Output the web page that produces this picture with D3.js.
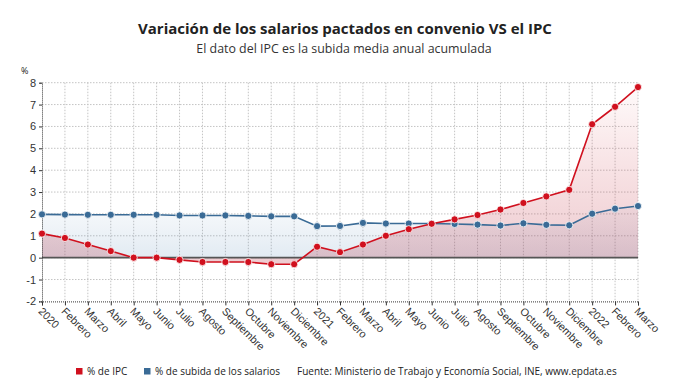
<!DOCTYPE html>
<html>
<head>
<meta charset="utf-8">
<script src="https://cdn.jsdelivr.net/npm/d3@7"></script>
<style>
  body { margin: 0; background: #fff; }
  svg { font-family: "Open Sans", sans-serif; }
</style>
</head>
<body>
<script>
// meses, de enero 2020 a marzo 2022
var months = ["2020","Febrero","Marzo","Abril","Mayo","Junio","Julio","Agosto","Septiembre","Octubre","Noviembre","Diciembre",
              "2021","Febrero","Marzo","Abril","Mayo","Junio","Julio","Agosto","Septiembre","Octubre","Noviembre","Diciembre",
              "2022","Febrero","Marzo"];
// % de IPC
var ipc = [1.1,0.9,0.6,0.3,0.0,0.0,-0.1,-0.2,-0.2,-0.2,-0.3,-0.3,
           0.5,0.25,0.6,1.0,1.3,1.55,1.75,1.95,2.2,2.5,2.8,3.1,
           6.1,6.9,7.8];
// % de subida de los salarios
var salarios = [1.98,1.97,1.96,1.96,1.96,1.96,1.93,1.93,1.93,1.91,1.89,1.89,
                1.44,1.45,1.59,1.56,1.56,1.56,1.54,1.51,1.47,1.57,1.50,1.48,
                2.01,2.24,2.36];
var yTicks = [-2,-1,0,1,2,3,4,5,6,7,8];

var width = 690, height = 388;
var svg = d3.select("body").append("svg").attr("width", width).attr("height", height);

var x = d3.scalePoint().domain(d3.range(months.length)).range([42, 638]);
var y = d3.scaleLinear().domain([-2, 8]).range([301.4, 82.7]);

// degradados
var defs = svg.append("defs");
var gr = defs.append("linearGradient").attr("id", "gRed").attr("x1", 0).attr("y1", 0).attr("x2", 0).attr("y2", 1);
gr.append("stop").attr("offset", "0%").attr("stop-color", "#d0101e").attr("stop-opacity", 0.02);
gr.append("stop").attr("offset", "100%").attr("stop-color", "#b8394c").attr("stop-opacity", 0.26);
var gb = defs.append("linearGradient").attr("id", "gBlue").attr("x1", 0).attr("y1", 0).attr("x2", 0).attr("y2", 1);
gb.append("stop").attr("offset", "0%").attr("stop-color", "#4a7fb0").attr("stop-opacity", 0.04);
gb.append("stop").attr("offset", "100%").attr("stop-color", "#4a7fb0").attr("stop-opacity", 0.16);

// titulos
svg.append("text").attr("x", 345).attr("y", 34).attr("text-anchor", "middle")
  .style("font-size", "15px").style("font-weight", "bold").attr("fill", "#222")
  .text("Variación de los salarios pactados en convenio VS el IPC");
svg.append("text").attr("x", 344).attr("y", 53).attr("text-anchor", "middle")
  .style("font-size", "12.4px").attr("fill", "#333")
  .text("El dato del IPC es la subida media anual acumulada");
svg.append("text").attr("x", 21).attr("y", 74).style("font-size", "9px").attr("fill", "#222").text("%");

// rejilla
var grid = svg.append("g");
grid.selectAll("line.h").data(yTicks.filter(function(d){ return d != -2; })).enter().append("line")
  .attr("x1", 42).attr("x2", 638).attr("y1", function(d){ return y(d); }).attr("y2", function(d){ return y(d); })
  .attr("stroke", "#c4c4c4").attr("stroke-dasharray", "1.5,1.5").attr("stroke-width", 1);
grid.selectAll("line.v").data(d3.range(1, months.length)).enter().append("line")
  .attr("x1", function(d){ return x(d); }).attr("x2", function(d){ return x(d); })
  .attr("y1", y(8)).attr("y2", y(-2))
  .attr("stroke", "#c4c4c4").attr("stroke-dasharray", "1.5,1.5").attr("stroke-width", 1);

// areas
var areaB = d3.area().x(function(d, i){ return x(i); }).y0(y(0)).y1(function(d){ return y(d); });
svg.append("path").datum(salarios).attr("d", areaB).attr("fill", "url(#gBlue)");
svg.append("path").datum(ipc).attr("d", areaB).attr("fill", "url(#gRed)");

// linea del cero
svg.append("line").attr("x1", 42).attr("x2", 638).attr("y1", y(0)).attr("y2", y(0))
  .attr("stroke", "#555").attr("stroke-width", 1.6);

// ejes
var yAxis = d3.axisLeft(y).tickValues(yTicks).tickSize(3).tickFormat(d3.format("d"));
var gy = svg.append("g").attr("transform", "translate(42,0)").call(yAxis);
gy.select(".domain").attr("stroke", "#333").attr("stroke-dasharray", "1,1");
gy.selectAll(".tick line").attr("stroke", "#333");
gy.selectAll("text").style("font-size", "11px").attr("fill", "#333").attr("x", -6)
  .text(function(d){ return d < 0 ? "-" + Math.abs(d) : d; });

var xAxis = d3.axisBottom(x).tickSize(4).tickFormat(function(i){ return months[i]; });
var gx = svg.append("g").attr("transform", "translate(0," + y(-2) + ")").call(xAxis);
gx.select(".domain").attr("stroke", "#333").attr("stroke-dasharray", "1,1");
gx.selectAll(".tick line").attr("stroke", "#333");
gx.selectAll("text").style("font-size", "10.8px").attr("fill", "#333")
  .attr("text-anchor", "start").attr("dy", "0.35em")
  .attr("transform", "translate(-2,8) rotate(45)").attr("y", 0).attr("x", 0);

// lineas
var line = d3.line().x(function(d, i){ return x(i); }).y(function(d){ return y(d); });
function drawSeries(data, color) {
  svg.append("path").datum(data).attr("d", line).attr("fill", "none")
    .attr("stroke", color).attr("stroke-width", 1.6);
  svg.append("g").selectAll("circle").data(data).enter().append("circle")
    .attr("cx", function(d, i){ return x(i); }).attr("cy", function(d){ return y(d); })
    .attr("r", 3.6).attr("fill", color).attr("stroke", "#fff").attr("stroke-width", 0.8);
}
drawSeries(salarios, "#3a6b96");
drawSeries(ipc, "#d0101e");

// leyenda
var leg = svg.append("g").style("font-size", "10px").attr("fill", "#222");
leg.append("rect").attr("x", 76).attr("y", 368).attr("width", 6.5).attr("height", 6.5).attr("fill", "#d0101e");
leg.append("text").attr("x", 87).attr("y", 375).text("% de IPC");
leg.append("rect").attr("x", 144).attr("y", 368).attr("width", 6.5).attr("height", 6.5).attr("fill", "#3a6b96");
leg.append("text").attr("x", 155).attr("y", 375).text("% de subida de los salarios");
leg.append("text").attr("x", 297).attr("y", 375).text("Fuente: Ministerio de Trabajo y Economía Social, INE, www.epdata.es");
</script>
</body>
</html>
